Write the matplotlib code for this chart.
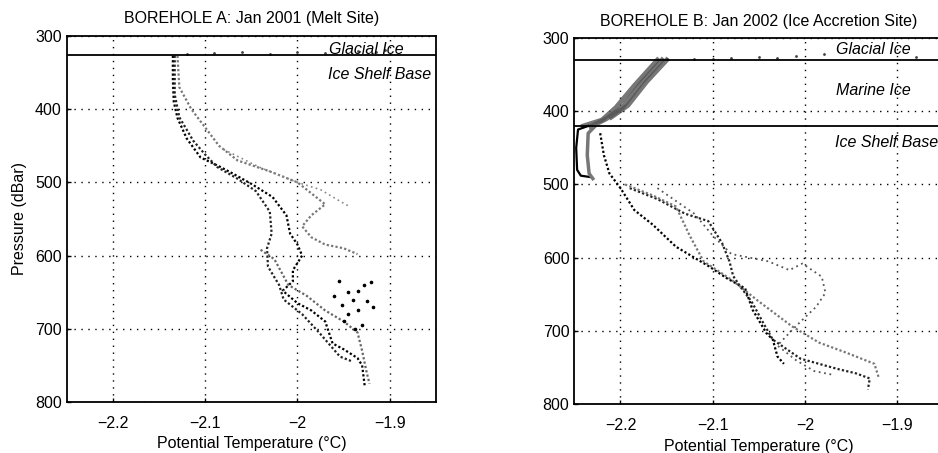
import matplotlib
matplotlib.use("Agg")
import matplotlib.pyplot as plt

plt.rcParams['font.family'] = ['Liberation Sans', 'DejaVu Sans']

# ---------------- data: Borehole A ----------------
a1_t = [-2.135, -2.135, -2.134, -2.130, -2.120, -2.105, -2.085, -2.070, -2.050, -2.027, -2.012, -2.008,
        -2.000, -1.995, -2.005, -2.005, -2.016, -2.000, -1.985, -1.970, -1.962, -1.950, -1.935, -1.930,
        -1.928, -1.927]
a1_p = [327, 360, 390, 412, 440, 466, 478, 488, 502, 520, 545, 570, 585, 600, 620, 635, 648, 665, 675,
        690, 720, 728, 740, 750, 770, 780]
a2_t = [-2.133, -2.133, -2.128, -2.113, -2.100, -2.087, -2.065, -2.045, -2.030, -2.028, -2.033, -2.032, -2.020,
        -2.015, -1.995, -1.976, -1.954, -1.940]
a2_p = [327, 380, 411, 443, 462, 479, 495, 512, 540, 570, 590, 615, 640, 660, 680, 706, 738, 745]
a3_t = [-2.130, -2.128, -2.115, -2.100, -2.085, -2.065, -2.030, -2.000, -1.985, -1.970, -1.985, -1.995, -1.985,
        -1.970, -1.950, -1.935]
a3_p = [327, 370, 400, 425, 450, 470, 485, 500, 515, 530, 545, 560, 575, 585, 590, 598]
a4_t = [-2.080, -2.040, -2.000, -1.975, -1.955, -1.945]
a4_p = [455, 480, 500, 510, 525, 532]
a5_t = [-2.040, -2.025, -2.010, -1.990, -1.970, -1.950, -1.935, -1.930, -1.925, -1.922]
a5_p = [592, 605, 640, 655, 675, 690, 705, 730, 760, 775]
a_dots_t = [-1.955, -1.945, -1.935, -1.928, -1.918, -1.935, -1.945, -1.950, -1.930, -1.940, -1.925, -1.920,
            -1.960, -1.952, -1.938]
a_dots_p = [635, 650, 648, 640, 670, 675, 680, 690, 695, 660, 662, 636, 655, 668, 700]
a_ice_t = [-2.120, -2.090, -2.060, -2.030, -2.000, -1.970, -1.935, -1.915, -1.905]
a_ice_p = [324, 323, 322, 324, 322, 323, 321, 322, 319]

# ---------------- data: Borehole B ----------------
bm1_t = [-2.160, -2.185, -2.205, -2.220, -2.240]
bm1_p = [330, 365, 395, 412, 420]
bm2_t = [-2.155, -2.178, -2.198, -2.215, -2.232]
bm2_p = [330, 362, 395, 410, 421]
bm3_t = [-2.150, -2.172, -2.192, -2.210]
bm3_p = [330, 360, 392, 408]
bu_t = [-2.235, -2.246, -2.248, -2.247, -2.243, -2.232]
bu_p = [420, 425, 450, 480, 488, 490]
bg_t = [-2.228, -2.235, -2.236, -2.234, -2.230]
bg_p = [421, 430, 460, 485, 492]
b1_t = [-2.222, -2.218, -2.212, -2.200, -2.185, -2.165, -2.140, -2.120, -2.104, -2.085, -2.065, -2.057, -2.042,
        -2.035, -2.030, -2.023]
b1_p = [430, 460, 485, 505, 535, 555, 585, 600, 612, 628, 642, 671, 703, 712, 735, 745]
b2_t = [-2.190, -2.160, -2.130, -2.105, -2.100, -2.090, -2.082, -2.078, -2.070, -2.058, -2.045, -2.035, -2.020,
        -2.005, -1.985, -1.965, -1.945, -1.930, -1.932]
b2_p = [505, 520, 540, 550, 560, 580, 605, 625, 640, 660, 690, 712, 725, 738, 745, 752, 758, 765, 780]
b3_t = [-2.195, -2.165, -2.140, -2.125, -2.110, -2.080, -2.050, -2.014, -1.985, -1.955, -1.925, -1.920]
b3_p = [500, 515, 530, 570, 605, 630, 660, 694, 716, 730, 745, 765]
b4_t = [-2.160, -2.120, -2.100, -2.080, -2.040, -2.017, -2.003, -1.982, -1.978, -1.988, -2.003, -2.015, -2.030,
        -2.010, -1.990, -1.970]
b4_p = [505, 540, 570, 595, 605, 617, 608, 626, 648, 667, 685, 700, 720, 740, 755, 760]
b_ice_t = [-2.150, -2.120, -2.100, -2.080, -2.050, -2.030, -2.010, -1.980, -1.880]
b_ice_p = [329, 328, 329, 327, 326, 327, 325, 322, 326]

# ---------------- figure ----------------
fig = plt.figure(figsize=(9.38, 4.53), dpi=100)
axA = fig.add_axes([0.0711, 0.1126, 0.3937, 0.808])
axB = fig.add_axes([0.6123, 0.108, 0.3937, 0.808])

FS = 11.5
dot = dict(linestyle=(0, (1, 1)), linewidth=1.6)


def style(ax, title):
    ax.set_xlim(-2.25, -1.85)
    ax.set_ylim(800, 300)
    ax.set_xticks([-2.2, -2.1, -2.0, -1.9])
    ax.set_xticklabels(['\u22122.2', '\u22122.1', '\u22122', '\u22121.9'])
    ax.set_yticks([300, 400, 500, 600, 700, 800])
    ax.grid(True, color='black', linestyle=(0, (1, 4)), linewidth=1.0)
    ax.tick_params(direction='in', length=3, labelsize=FS, width=1)
    ax.tick_params(axis='x', pad=10)
    for s in ax.spines.values():
        s.set_linewidth(1.3)
    ax.set_title(title, fontsize=FS, pad=9)
    ax.set_xlabel('Potential Temperature (\u00b0C)', fontsize=FS, labelpad=4)


style(axA, 'BOREHOLE A: Jan 2001 (Melt Site)')
axA.set_ylabel('Pressure (dBar)', fontsize=FS, labelpad=6)
axA.plot(a1_t, a1_p, color='black', **dot)
axA.plot(a2_t, a2_p, color='#222222', **dot)
axA.plot(a3_t, a3_p, color='#777777', **dot)
axA.plot(a4_t, a4_p, color='#888888', linestyle=(0, (1, 2)), linewidth=1.2)
axA.plot(a5_t, a5_p, color='#666666', **dot)
axA.plot(a_dots_t, a_dots_p, 'o', color='black', markersize=1.6, linestyle='none')
axA.plot(a_ice_t, a_ice_p, 'o', color='#444444', markersize=1.0, linestyle='none')
axA.axhline(326, color='black', linewidth=1.3)
axA.text(-1.966, 318, 'Glacial Ice', fontsize=FS, style='italic', va='center')
axA.text(-1.967, 353, 'Ice Shelf Base', fontsize=FS, style='italic', va='center')

style(axB, 'BOREHOLE B: Jan 2002 (Ice Accretion Site)')
for t, p in [(bm1_t, bm1_p), (bm2_t, bm2_p), (bm3_t, bm3_p)]:
    axB.plot(t, p, color='#555555', linewidth=3.5, alpha=0.8)
axB.plot(bu_t, bu_p, color='black', linewidth=1.6)
axB.plot(bg_t, bg_p, color='#777777', linewidth=2.5)
axB.plot(b1_t, b1_p, color='black', **dot)
axB.plot(b2_t, b2_p, color='#222222', **dot)
axB.plot(b3_t, b3_p, color='#777777', **dot)
axB.plot(b4_t, b4_p, color='#555555', linestyle=(0, (1, 2)), linewidth=1.3)
axB.plot(b_ice_t, b_ice_p, 'o', color='#444444', markersize=1.0, linestyle='none')
axB.axhline(330, color='black', linewidth=1.3)
axB.axhline(420, color='black', linewidth=1.3)
axB.text(-1.967, 316, 'Glacial Ice', fontsize=FS, style='italic', va='center')
axB.text(-1.967, 371, 'Marine Ice', fontsize=FS, style='italic', va='center')
axB.text(-1.968, 443, 'Ice Shelf Base', fontsize=FS, style='italic', va='center')

fig.savefig('out.png', dpi=100)
